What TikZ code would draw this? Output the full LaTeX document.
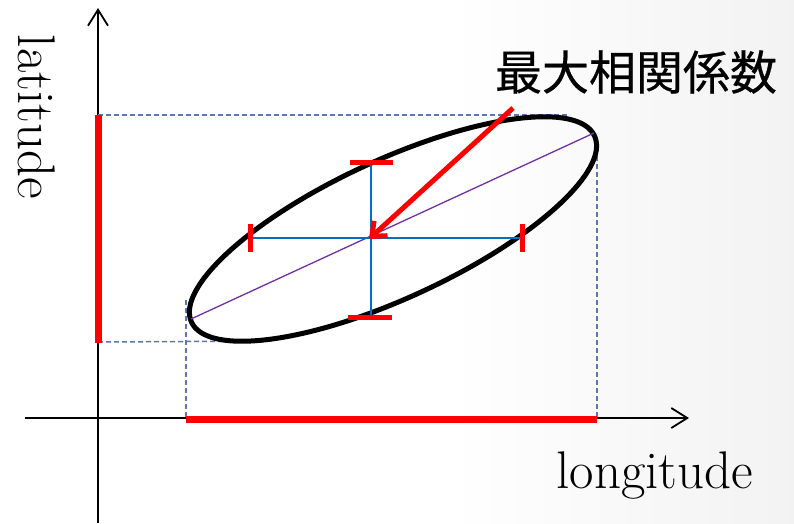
\documentclass[tikz,border=0pt]{standalone}
\usepackage{fontspec}
\newfontfamily\cjk[FakeBold=0.5]{Noto Sans CJK JP}
\usetikzlibrary{arrows.meta}
\definecolor{dashblue}{RGB}{91,117,185}
\definecolor{crossblue}{RGB}{0,112,192}
\definecolor{diagpurple}{RGB}{112,48,160}
\tikzset{
  axisline/.style={line width=1.8pt,-{Straight Barb[length=16pt,width=20pt,line width=1.8pt]}},
  redbar/.style={red,line width=7pt},
  guide/.style={dashblue,line width=1.5pt,dash pattern=on 5pt off 3pt},
  cross/.style={crossblue,line width=2pt},
  tick/.style={red,line width=5pt},
  axlabel/.style={font=\fontsize{53}{62}\selectfont,inner sep=0pt},
}
\begin{document}
\begin{tikzpicture}[x=1pt,y=-1pt]
\useasboundingbox (0,0) rectangle (794,523);
\shade[left color=white,right color=black!5] (450,0) rectangle (794,523);
\fill[white] (0,0) rectangle (450,523);
% axes
\coordinate (yb) at (98,523);
\coordinate (yt) at (98,8);
\coordinate (xl) at (25,418);
\coordinate (xr) at (689,418);
\draw[axisline] (yb) -- (yt);
\draw[axisline] (xl) -- (xr);
% guide lines
\coordinate (g1) at (98,115);
\coordinate (g2) at (570,115);
\coordinate (g3) at (597,148);
\coordinate (g4) at (597,418);
\coordinate (g5) at (186,300);
\coordinate (g6) at (186,418);
\coordinate (g7) at (98,342);
\coordinate (g8) at (272,341);
\draw[guide] (g1) -- (g2);
\draw[guide] (g3) -- (g4);
\draw[guide] (g5) -- (g6);
\draw[guide] (g7) -- (g8);
% red bars
\coordinate (vb1) at (98,115);
\coordinate (vb2) at (98,343);
\coordinate (hb1) at (186,419);
\coordinate (hb2) at (597,419);
\draw[redbar] (vb1) -- (vb2);
\draw[redbar] (hb1) -- (hb2);
% ellipse
\coordinate (ec) at (393,229);
\draw[line width=5pt,rotate around={24.8:(ec)}] (ec) ellipse [x radius=222,y radius=69];
% major axis
\coordinate (m1) at (191,319);
\coordinate (m2) at (594,133);
\draw[diagpurple,line width=1.3pt] (m1) -- (m2);
% cross
\coordinate (ctr) at (371,238);
\coordinate (cl) at (250,238);
\coordinate (cr) at (522,238);
\coordinate (ct) at (371,162);
\coordinate (cb) at (371,317);
\draw[cross] (cl) -- (cr);
\draw[cross] (ct) -- (cb);
% ticks
\draw[tick] ([yshift=-14pt]cl) -- ([yshift=14pt]cl);
\draw[tick] ([yshift=-14pt]cr) -- ([yshift=14pt]cr);
\draw[tick] ([xshift=-21pt]ct) -- ([xshift=22pt]ct);
\draw[tick] ([xshift=-23pt]cb) -- ([xshift=21pt]cb);
% label arrow
\node[inner sep=0pt,font=\cjk\fontsize{47}{56}\selectfont] (lbl) at (636,72) {最大相関係数};
\coordinate (as) at (513,108);
\coordinate (at) at (369,239);
\draw[red,line width=5pt,-{Straight Barb[length=12pt,width=20pt,line width=5pt]}] (as) -- (at);
% axis labels
\node[axlabel,anchor=base] (lon) at (655,488) {longitude};
\node[axlabel,anchor=base,rotate=-90] (lat) at (18,117) {latitude};
\end{tikzpicture}
\end{document}
